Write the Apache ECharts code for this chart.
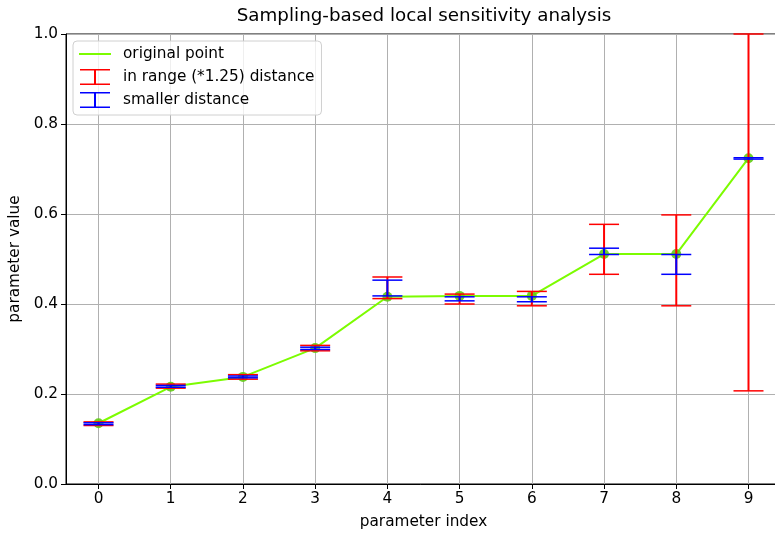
<!DOCTYPE html>
<html>
<head>
<meta charset="utf-8">
<script src="https://cdn.jsdelivr.net/npm/echarts@6/dist/echarts.min.js"></script>
<style>
  html, body { margin: 0; padding: 0; background: #fff; }
  #chart { width: 775px; height: 533px; }
</style>
</head>
<body>
<div id="chart"></div>
<script>
// parameter index and the original point values
const idx = [0, 1, 2, 3, 4, 5, 6, 7, 8, 9]
const orig = [0.135, 0.216, 0.238, 0.302, 0.416, 0.418, 0.418, 0.511, 0.511, 0.724]

// in range (*1.25) distance (red)
const redLow = [0.130, 0.213, 0.233, 0.296, 0.412, 0.400, 0.396, 0.466, 0.396, 0.207]
const redHigh = [0.138, 0.222, 0.243, 0.308, 0.460, 0.422, 0.428, 0.577, 0.598, 1.000]

// smaller distance (blue)
const blueLow = [0.132, 0.215, 0.236, 0.299, 0.418, 0.407, 0.405, 0.510, 0.466, 0.722]
const blueHigh = [0.136, 0.219, 0.240, 0.304, 0.453, 0.416, 0.416, 0.524, 0.510, 0.725]

const yTicks = [0, 0.2, 0.4, 0.6, 0.8, 1.0]

const FONT = 'DejaVu Sans'
const FS = 15.3
const CAP = 15

// legend icons, 32x16 boxes (tiny corner specks fix the bounding box)
const corners = 'M0,0h0.01v0.01h-0.01z M31.99,15.99h0.01v0.01h-0.01z '
const lineIcon = 'path://' + corners + 'M0,7h32v2h-32z'
const errIcon = 'path://' + corners + 'M1,0h30v1.5h-30z M15,0h2v16h-2z M1,14.5h30v1.5h-30z'

function errorBarRender(color) {
  return function (params, api) {
    const x = api.value(0)
    const lo = api.coord([x, api.value(1)])
    const hi = api.coord([x, api.value(2)])
    return {
      type: 'group',
      children: [
        { type: 'line', shape: { x1: lo[0], y1: lo[1], x2: hi[0], y2: hi[1] },
          style: { stroke: color, lineWidth: 2 } },
        { type: 'line', shape: { x1: lo[0] - CAP, y1: lo[1], x2: lo[0] + CAP, y2: lo[1] },
          style: { stroke: color, lineWidth: 1.5 } },
        { type: 'line', shape: { x1: hi[0] - CAP, y1: hi[1], x2: hi[0] + CAP, y2: hi[1] },
          style: { stroke: color, lineWidth: 1.5 } }
      ]
    }
  }
}

const chart = echarts.init(document.getElementById('chart'))

const option = {
  animation: false,
  backgroundColor: '#fff',
  title: {
    text: 'Sampling-based local sensitivity analysis',
    left: 419,
    top: 2,
    textAlign: 'center',
    textStyle: { fontFamily: FONT, fontSize: 18.3, fontWeight: 'normal', color: '#000' }
  },
  legend: {
    orient: 'vertical',
    left: 73,
    top: 41,
    padding: [5, 7, 7, 6],
    itemWidth: 32,
    itemHeight: 16,
    itemGap: 7,
    backgroundColor: 'rgba(255,255,255,0.8)',
    borderColor: '#d0d0d0',
    borderWidth: 1,
    borderRadius: 4,
    textStyle: { fontFamily: FONT, fontSize: FS, color: '#000', padding: [0, 0, 0, 7] },
    data: [
      { name: 'original point', icon: lineIcon },
      { name: 'in range (*1.25) distance', icon: errIcon },
      { name: 'smaller distance', icon: errIcon }
    ]
  },
  grid: {
    left: 66,
    top: 34,
    width: 715,
    height: 450,
    outerBoundsMode: 'none',
    containLabel: false,
    show: true,
    borderColor: '#000',
    borderWidth: 1
  },
  xAxis: {
    type: 'value',
    min: -0.45,
    max: 9.45,
    name: 'parameter index',
    nameLocation: 'middle',
    nameGap: 31,
    nameTextStyle: { fontFamily: FONT, fontSize: FS, color: '#000' },
    axisLine: { show: true, onZero: false, lineStyle: { color: '#000', width: 1 } },
    axisTick: { show: true, length: 5, lineStyle: { color: '#000' }, customValues: idx },
    axisLabel: { fontFamily: FONT, fontSize: FS, color: '#000', margin: 8, customValues: idx },
    splitLine: { show: true, lineStyle: { color: '#b0b0b0', width: 1 } }
  },
  yAxis: {
    type: 'value',
    min: 0,
    max: 1,
    interval: 0.2,
    name: 'parameter value',
    nameLocation: 'middle',
    nameGap: 42,
    nameTextStyle: { fontFamily: FONT, fontSize: FS, color: '#000' },
    axisLine: { show: true, onZero: false, lineStyle: { color: '#000', width: 1 } },
    axisTick: { show: true, length: 5, lineStyle: { color: '#000' }, customValues: yTicks },
    axisLabel: { fontFamily: FONT, fontSize: FS, color: '#000', margin: 8,
      customValues: yTicks, formatter: v => v.toFixed(1) },
    splitLine: { show: true, lineStyle: { color: '#b0b0b0', width: 1 } }
  },
  series: [
    {
      name: 'original point',
      type: 'line',
      data: idx.map((x, i) => [x, orig[i]]),
      showSymbol: false,
      color: '#7cfc00',
      lineStyle: { color: '#7cfc00', width: 2 },
      z: 2
    },
    {
      type: 'scatter',
      data: idx.map((x, i) => [x, orig[i]]),
      symbol: 'circle',
      symbolSize: 10,
      itemStyle: { color: '#62cc14', opacity: 0.9 },
      z: 2
    },
    {
      name: 'in range (*1.25) distance',
      type: 'custom',
      data: idx.map((x, i) => [x, redLow[i], redHigh[i]]),
      encode: { x: 0, y: [1, 2] },
      itemStyle: { color: '#ff0000' },
      renderItem: errorBarRender('#ff0000'),
      z: 3
    },
    {
      name: 'smaller distance',
      type: 'custom',
      data: idx.map((x, i) => [x, blueLow[i], blueHigh[i]]),
      encode: { x: 0, y: [1, 2] },
      itemStyle: { color: '#0000ff' },
      renderItem: errorBarRender('#0000ff'),
      z: 4
    }
  ]
}

chart.setOption(option)
</script>
</body>
</html>
